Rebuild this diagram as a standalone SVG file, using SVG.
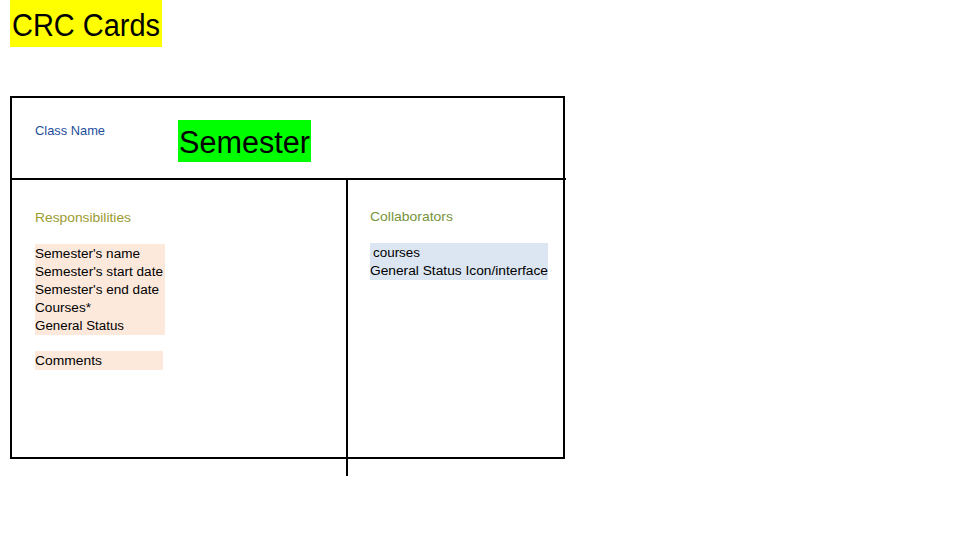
<svg xmlns="http://www.w3.org/2000/svg" width="960" height="540" viewBox="0 0 960 540">
<style>
text{font-family:"Liberation Sans","DejaVu Sans",sans-serif;}
.ln{stroke:#000;stroke-width:2;fill:none;}
.sm{font-size:12.5px;fill:#000;}
.hd{font-size:13px;}
</style>
<rect width="960" height="540" fill="#fff"/>
<g id="title">
<rect x="10" y="0" width="152" height="47" fill="#ffff00"/>
<text x="12" y="36" font-size="31" textLength="148" lengthAdjust="spacingAndGlyphs">CRC Cards</text>
</g>
<g id="card-frame">
<rect class="ln" x="11" y="97" width="553" height="361"/>
<line class="ln" x1="11" y1="179" x2="566" y2="179"/>
<line class="ln" x1="347" y1="179" x2="347" y2="476"/>
</g>
<g id="class-name">
<text class="hd" x="35" y="135" fill="#1f4e9b" textLength="70" lengthAdjust="spacingAndGlyphs">Class Name</text>
<rect x="178" y="120" width="133" height="42" fill="#00ff00"/>
<text x="179" y="153" font-size="31" textLength="131" lengthAdjust="spacingAndGlyphs">Semester</text>
</g>
<g id="responsibilities">
<text class="hd" x="35" y="222" fill="#9b9b30" textLength="96" lengthAdjust="spacingAndGlyphs">Responsibilities</text>
<rect x="35" y="244" width="130" height="91" fill="#fde9dc"/>
<rect x="35" y="351" width="128" height="19" fill="#fde9dc"/>
<text class="sm" x="35" y="258" textLength="105" lengthAdjust="spacingAndGlyphs">Semester's name</text>
<text class="sm" x="35" y="276" textLength="128" lengthAdjust="spacingAndGlyphs">Semester's start date</text>
<text class="sm" x="35" y="294" textLength="124" lengthAdjust="spacingAndGlyphs">Semester's end date</text>
<text class="sm" x="35" y="312" textLength="56" lengthAdjust="spacingAndGlyphs">Courses*</text>
<text class="sm" x="35" y="330" textLength="89" lengthAdjust="spacingAndGlyphs">General Status</text>
<text class="sm" x="35" y="365" textLength="67" lengthAdjust="spacingAndGlyphs">Comments</text>
</g>
<g id="collaborators">
<text class="hd" x="370" y="221" fill="#77933c" textLength="83" lengthAdjust="spacingAndGlyphs">Collaborators</text>
<rect x="370" y="243" width="178" height="37" fill="#dce6f2"/>
<text class="sm" x="373" y="257" textLength="47" lengthAdjust="spacingAndGlyphs">courses</text>
<text class="sm" x="370" y="275" textLength="178" lengthAdjust="spacingAndGlyphs">General Status Icon/interface</text>
</g>
</svg>
